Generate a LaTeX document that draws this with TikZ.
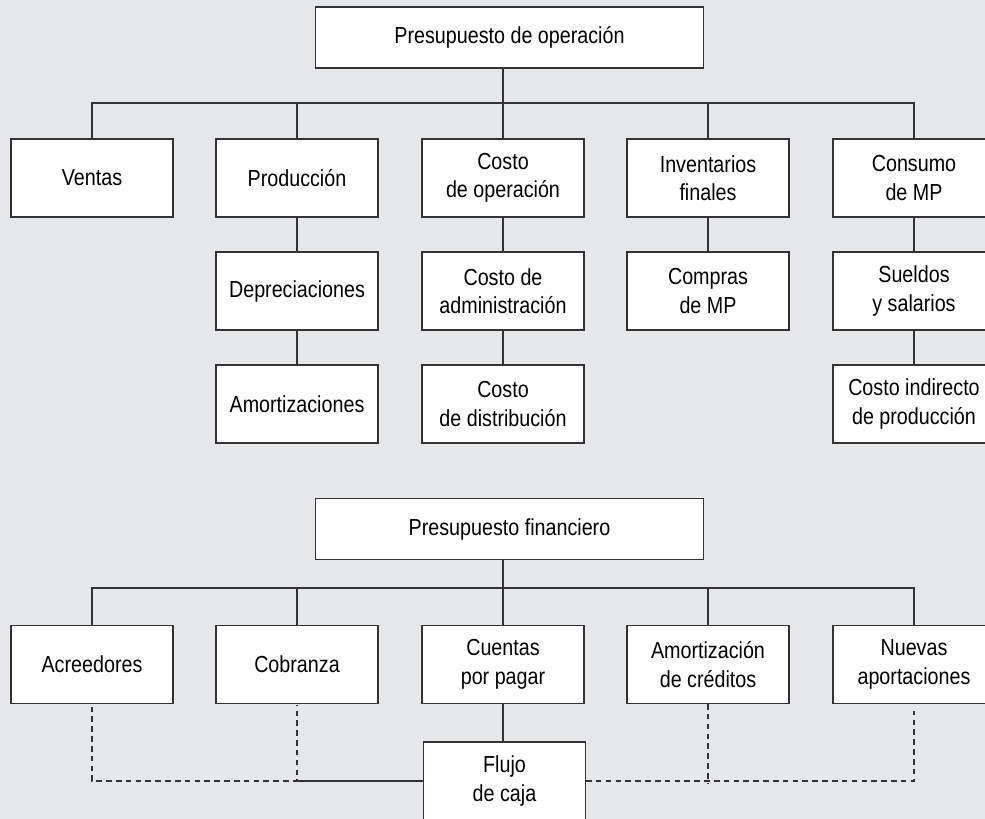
\documentclass[tikz,border=0pt]{standalone}
\usepackage{fontspec}
\setmainfont{Liberation Sans}[FakeStretch=0.85]
\usetikzlibrary{positioning}
\definecolor{Fondo}{HTML}{E6E7E8}
\definecolor{Linea}{HTML}{333333}
\begin{document}
\begin{tikzpicture}[x=0.02cm,y=-0.02cm,line width=0.6pt,
  caja/.style={draw=Linea,fill=white,align=center,inner sep=0pt,minimum width=3.24cm,minimum height=1.56cm,font=\fontsize{13.2}{16.2}\selectfont},
  jefe/.style={caja,minimum width=7.78cm,minimum height=1.22cm},
  punteada/.style={draw=Linea,dash pattern=on 3.2pt off 2.4pt}]
\useasboundingbox[fill=Fondo](0,0)rectangle(985,819);
% presupuesto de operacion
\node[jefe](ope)at(509.5,37.5){Presupuesto de operación};
\node[caja](ven)at(92,178){Ventas};
\node[caja](pro)at(297,178){Producción};
\node[caja](cop)at(503,178){Costo\\de operación};
\node[caja](inv)at(708,178){Inventarios\\finales};
\node[caja](con)at(914,178){Consumo\\de MP};
\node[caja](dep)at(297,291){Depreciaciones};
\node[caja](cad)at(503,291){Costo de\\administración};
\node[caja](com)at(708,291){Compras\\de MP};
\node[caja](sue)at(914,291){Sueldos\\y salarios};
\node[caja](amr)at(297,404){Amortizaciones};
\node[caja](cdi)at(503,404){Costo\\de distribución};
\node[caja](cip)at(914,404){Costo indirecto\\de producción};
\coordinate(bus1)at(500,103);
\draw[Linea](cop.north)--(cop.north|-ope.south);
\draw[Linea](ven.north)--(ven.north|-bus1)--(con.north|-bus1)--(con.north);
\foreach \n in {pro,inv}\draw[Linea](\n.north)--(\n.north|-bus1);
\draw[Linea](pro)--(dep)--(amr);
\draw[Linea](cop)--(cad)--(cdi);
\draw[Linea](inv)--(com);
\draw[Linea](con)--(sue)--(cip);
% presupuesto financiero
\node[jefe](fin)at(509.5,529){Presupuesto financiero};
\node[caja](acr)at(92,664.5){Acreedores};
\node[caja](cob)at(297,664.5){Cobranza};
\node[caja](cxp)at(503,664.5){Cuentas\\por pagar};
\node[caja](amc)at(708,664.5){Amortización\\de créditos};
\node[caja](nue)at(914,664.5){Nuevas\\aportaciones};
\node[caja](flu)at(504.5,781){Flujo\\de caja};
\coordinate(bus2)at(500,588);
\draw[Linea](cxp.north)--(cxp.north|-fin.south);
\draw[Linea](acr.north)--(acr.north|-bus2)--(nue.north|-bus2)--(nue.north);
\foreach \n in {cob,amc}\draw[Linea](\n.north)--(\n.north|-bus2);
\draw[Linea](cxp.south)--(cxp.south|-flu.north);
\draw[Linea](cob.south|-flu.west)--(flu.west);
\draw[punteada]([yshift=-0.05cm]acr.south)--(acr.south|-flu.west)--(cob.south|-flu.west)--([yshift=-0.02cm]cob.south);
\draw[punteada](flu.east)--(nue.south|-flu.east)--([yshift=-0.14cm]nue.south);
\draw[punteada](amc.south)--([yshift=-0.06cm]amc.south|-flu.east);
\end{tikzpicture}
\end{document}
